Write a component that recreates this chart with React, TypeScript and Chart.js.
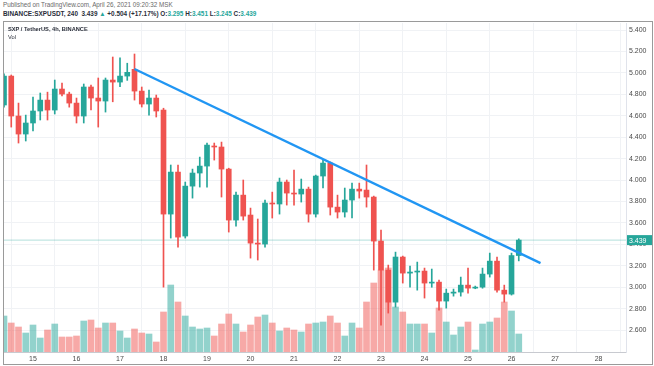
import React, { useEffect, useRef } from 'react';
import { Chart, registerables } from 'chart.js';

Chart.register(...registerables);

// 4h candles, index 0 = April 15 00:00, first visible candle is index -4
const startIndex = -4;
const barsPerDay = 6;

const opens = [
  4.700, 4.970, 4.597, 4.429, 4.532, 4.644, 4.746, 4.653, 4.849, 4.802,
  4.718, 4.597, 4.868, 4.765, 4.737, 4.933, 4.914, 4.970, 5.033, 4.830,
  4.709, 4.765, 4.653, 3.682, 4.074, 3.477, 3.943, 4.065, 4.130, 4.317,
  4.308, 4.102, 3.626, 3.859, 3.673, 3.411, 3.402, 3.785, 3.776, 3.981,
  3.878, 3.869, 3.915, 3.682, 4.037, 4.158, 3.747, 3.701, 3.813, 3.915,
  3.906, 3.841, 3.430, 3.159, 2.860, 3.281, 3.131, 3.141, 3.150, 3.038,
  3.047, 2.870, 2.944, 2.954, 3.019, 2.991, 3.000, 3.122, 3.243, 2.972,
  2.935, 3.295,
];
const highs = [
  4.990, 4.980, 4.718, 4.606, 4.774, 4.812, 4.820, 4.933, 4.905, 4.820,
  4.765, 4.896, 4.886, 4.952, 4.952, 5.148, 5.140, 5.090, 5.176, 4.868,
  4.840, 4.793, 4.670, 4.140, 4.140, 3.981, 4.102, 4.214, 4.345, 4.345,
  4.354, 4.110, 3.887, 4.000, 3.738, 3.636, 3.813, 3.887, 4.018, 4.000,
  4.093, 4.009, 3.934, 4.046, 4.186, 4.168, 3.859, 3.925, 3.971, 3.971,
  4.140, 3.850, 3.533, 3.206, 3.327, 3.290, 3.197, 3.234, 3.178, 3.169,
  3.066, 2.982, 2.982, 3.094, 3.178, 3.010, 3.178, 3.318, 3.281, 3.019,
  3.318, 3.451,
];
const lows = [
  4.680, 4.494, 4.345, 4.364, 4.457, 4.560, 4.560, 4.616, 4.784, 4.680,
  4.532, 4.532, 4.653, 4.494, 4.634, 4.730, 4.870, 4.930, 4.746, 4.681,
  4.606, 4.588, 3.000, 3.458, 3.374, 3.458, 3.831, 3.934, 3.934, 4.186,
  3.841, 3.514, 3.570, 3.626, 3.271, 3.253, 3.374, 3.645, 3.682, 3.766,
  3.766, 3.794, 3.607, 3.654, 3.925, 3.673, 3.645, 3.654, 3.645, 3.831,
  3.747, 3.159, 2.646, 2.758, 2.814, 3.038, 2.999, 2.972, 2.898, 2.999,
  2.786, 2.804, 2.916, 2.916, 2.944, 2.985, 2.990, 3.094, 2.954, 2.860,
  2.926, 3.245,
];
const closes = [
  4.970, 4.597, 4.429, 4.532, 4.644, 4.746, 4.653, 4.849, 4.802, 4.718,
  4.597, 4.868, 4.765, 4.737, 4.933, 4.914, 4.970, 5.005, 4.830, 4.709,
  4.765, 4.644, 3.682, 4.074, 3.467, 3.943, 4.065, 4.130, 4.326, 4.308,
  4.102, 3.626, 3.859, 3.663, 3.411, 3.402, 3.785, 3.776, 3.981, 3.878,
  3.869, 3.915, 3.682, 4.037, 4.158, 3.747, 3.701, 3.813, 3.915, 3.897,
  3.841, 3.430, 3.159, 2.860, 3.281, 3.131, 3.141, 3.150, 3.038, 3.047,
  2.870, 2.944, 2.954, 3.019, 2.991, 3.000, 3.122, 3.243, 2.972, 2.935,
  3.295, 3.439,
];
const volumes = [
  720, 580, 500, 380, 540, 280, 440, 560, 300, 300,
  320, 620, 640, 480, 580, 580, 420, 280, 460, 380,
  360, 200, 800, 1340, 1000, 720, 500, 460, 480, 320,
  560, 760, 560, 400, 540, 700, 740, 580, 420, 480,
  440, 400, 560, 580, 600, 720, 580, 320, 580, 480,
  1000, 1380, 1640, 1680, 900, 800, 560, 560, 560, 380,
  880, 600, 340, 500, 600, 40, 560, 600, 680, 1000,
  820, 360,
];

const dayTickLabels = ['15', '16', '17', '18', '19', '20', '21', '22', '23', '24', '25', '26', '27', '28'];
const priceTicks = [2.6, 2.8, 3.0, 3.2, 3.4, 3.6, 3.8, 4.0, 4.2, 4.4, 4.6, 4.8, 5.0, 5.2, 5.4];

const trendX = [14, 70];
const trendY = [5.036, 3.224];
const lastPrice = 3.439;

const GREEN = '#26a69a';
const RED = '#ef5350';
const GREEN_VOL = 'rgba(38,166,154,0.5)';
const RED_VOL = 'rgba(239,83,80,0.5)';
const FONT = '"Liberation Sans", Arial, sans-serif';

export default function App() {
  const ref = useRef<HTMLCanvasElement>(null);

  useEffect(() => {
    if (!ref.current) return;
    const xs = opens.map((_, i) => i + startIndex);
    const up = opens.map((o, i) => closes[i] >= o);
    const candleColors = up.map((u) => (u ? GREEN : RED));
    const volColors = up.map((u) => (u ? GREEN_VOL : RED_VOL));
    const xMin = -4;
    const xMax = 81.79;

    const tagPlugin = {
      id: 'lastTag',
      afterDraw(chart: any) {
        const ctx = chart.ctx;
        const ys = chart.scales.y;
        const y = ys.getPixelForValue(lastPrice);
        const left = chart.chartArea.right + 1;
        ctx.save();
        ctx.fillStyle = GREEN;
        ctx.fillRect(left, y - 5, 25, 10);
        ctx.fillStyle = '#ffffff';
        ctx.font = `7px ${FONT}`;
        ctx.textBaseline = 'middle';
        ctx.textAlign = 'left';
        ctx.fillText(lastPrice.toFixed(3), left + 2, y + 0.5);
        ctx.restore();
      },
    };

    const chart = new Chart(ref.current, {
      type: 'bar',
      data: {
        datasets: [
          {
            type: 'line',
            label: 'trend',
            data: trendX.map((x, i) => ({ x, y: trendY[i] })),
            borderColor: '#2196f3',
            borderWidth: 2.4,
            pointRadius: 0,
            yAxisID: 'y',
            order: 1,
          } as any,
          {
            type: 'bar',
            label: 'body',
            data: xs.map((x, i) => ({ x, y: [opens[i], closes[i]] })),
            backgroundColor: candleColors,
            barThickness: 5,
            minBarLength: 1,
            grouped: false,
            yAxisID: 'y',
            order: 2,
          } as any,
          {
            type: 'bar',
            label: 'wick',
            data: xs.map((x, i) => ({ x, y: [lows[i], highs[i]] })),
            backgroundColor: candleColors,
            barThickness: 1,
            grouped: false,
            yAxisID: 'y',
            order: 3,
          } as any,
          {
            type: 'line',
            label: 'last',
            data: [
              { x: xMin, y: lastPrice },
              { x: xMax, y: lastPrice },
            ],
            borderColor: 'rgba(38,166,154,0.35)',
            borderWidth: 1,
            pointRadius: 0,
            yAxisID: 'y',
            order: 4,
          } as any,
          {
            type: 'bar',
            label: 'Vol',
            data: xs.map((x, i) => ({ x, y: volumes[i] })),
            backgroundColor: volColors,
            barThickness: 6,
            grouped: false,
            yAxisID: 'vol',
            order: 5,
          } as any,
        ],
      },
      options: {
        animation: false,
        responsive: false,
        maintainAspectRatio: false,
        layout: { padding: { left: 4, top: 23, right: 0, bottom: 2 } },
        plugins: { legend: { display: false }, tooltip: { enabled: false } },
        scales: {
          x: {
            type: 'linear',
            min: xMin,
            max: xMax,
            offset: false,
            grid: { color: '#f0f2f5', drawTicks: false },
            border: { display: true, color: '#c8cad0' },
            ticks: {
              font: { size: 7, family: FONT },
              color: '#4a4a4a',
              padding: 3,
              maxRotation: 0,
              autoSkip: false,
              callback: (_v: any, idx: number) => dayTickLabels[idx],
            },
            afterBuildTicks: (s: any) => {
              s.ticks = dayTickLabels.map((_, k) => ({ value: k * barsPerDay }));
            },
            afterFit: (s: any) => {
              s.height = 12;
            },
          },
          y: {
            type: 'linear',
            position: 'right',
            min: 2.3947,
            max: 5.4654,
            grid: { color: '#f0f2f5', drawTicks: false },
            border: { display: true, color: '#e0e3eb' },
            ticks: {
              font: { size: 7, family: FONT },
              color: '#4a4a4a',
              padding: 3,
              callback: (v: any) => Number(v).toFixed(3),
            },
            afterBuildTicks: (s: any) => {
              s.ticks = priceTicks.map((v) => ({ value: v }));
            },
            afterFit: (s: any) => {
              s.width = 28;
            },
          },
          vol: {
            type: 'linear',
            display: false,
            min: 0,
            max: 6580,
          },
        },
      } as any,
      plugins: [tagPlugin],
    });
    return () => chart.destroy();
  }, []);

  const textBase: React.CSSProperties = {
    position: 'absolute',
    fontFamily: FONT,
    whiteSpace: 'nowrap',
    lineHeight: '8px',
  };

  return (
    <div
      style={{
        position: 'fixed',
        left: 0,
        top: 0,
        width: 654,
        height: 366,
        background: '#ffffff',
        overflow: 'hidden',
      }}
    >
      <div style={{ ...textBase, left: 3, top: 1, fontSize: 6.3, color: '#6a6a6a' }}>
        Published on TradingView.com, April 26, 2021 09:20:32 MSK
      </div>
      <div style={{ ...textBase, left: 3, top: 10, fontSize: 6.4, color: '#2a2e39', fontWeight: 'bold' }}>
        BINANCE:SXPUSDT, 240&nbsp; 3.439 <span style={{ color: GREEN }}>▲</span> +0.504 (+17.17%){' '}
        O:<span style={{ color: GREEN }}>3.295</span> H:<span style={{ color: GREEN }}>3.451</span>{' '}
        L:<span style={{ color: GREEN }}>3.245</span> C:<span style={{ color: GREEN }}>3.439</span>
      </div>
      <div
        style={{
          position: 'absolute',
          left: 3,
          top: 21,
          width: 650,
          height: 344,
          boxSizing: 'border-box',
          border: '1px solid #9a9a9a',
        }}
      />
      <canvas
        ref={ref}
        width={654}
        height={366}
        style={{ position: 'absolute', left: 0, top: 0, width: 654, height: 366 }}
      />
      <div style={{ ...textBase, left: 8, top: 25, fontSize: 5.7, color: '#2a2e39', fontWeight: 'bold' }}>
        SXP / TetherUS, 4h, BINANCE
      </div>
      <div style={{ ...textBase, left: 8, top: 33, fontSize: 5.7, color: '#2a2e39' }}>Vol</div>
    </div>
  );
}
